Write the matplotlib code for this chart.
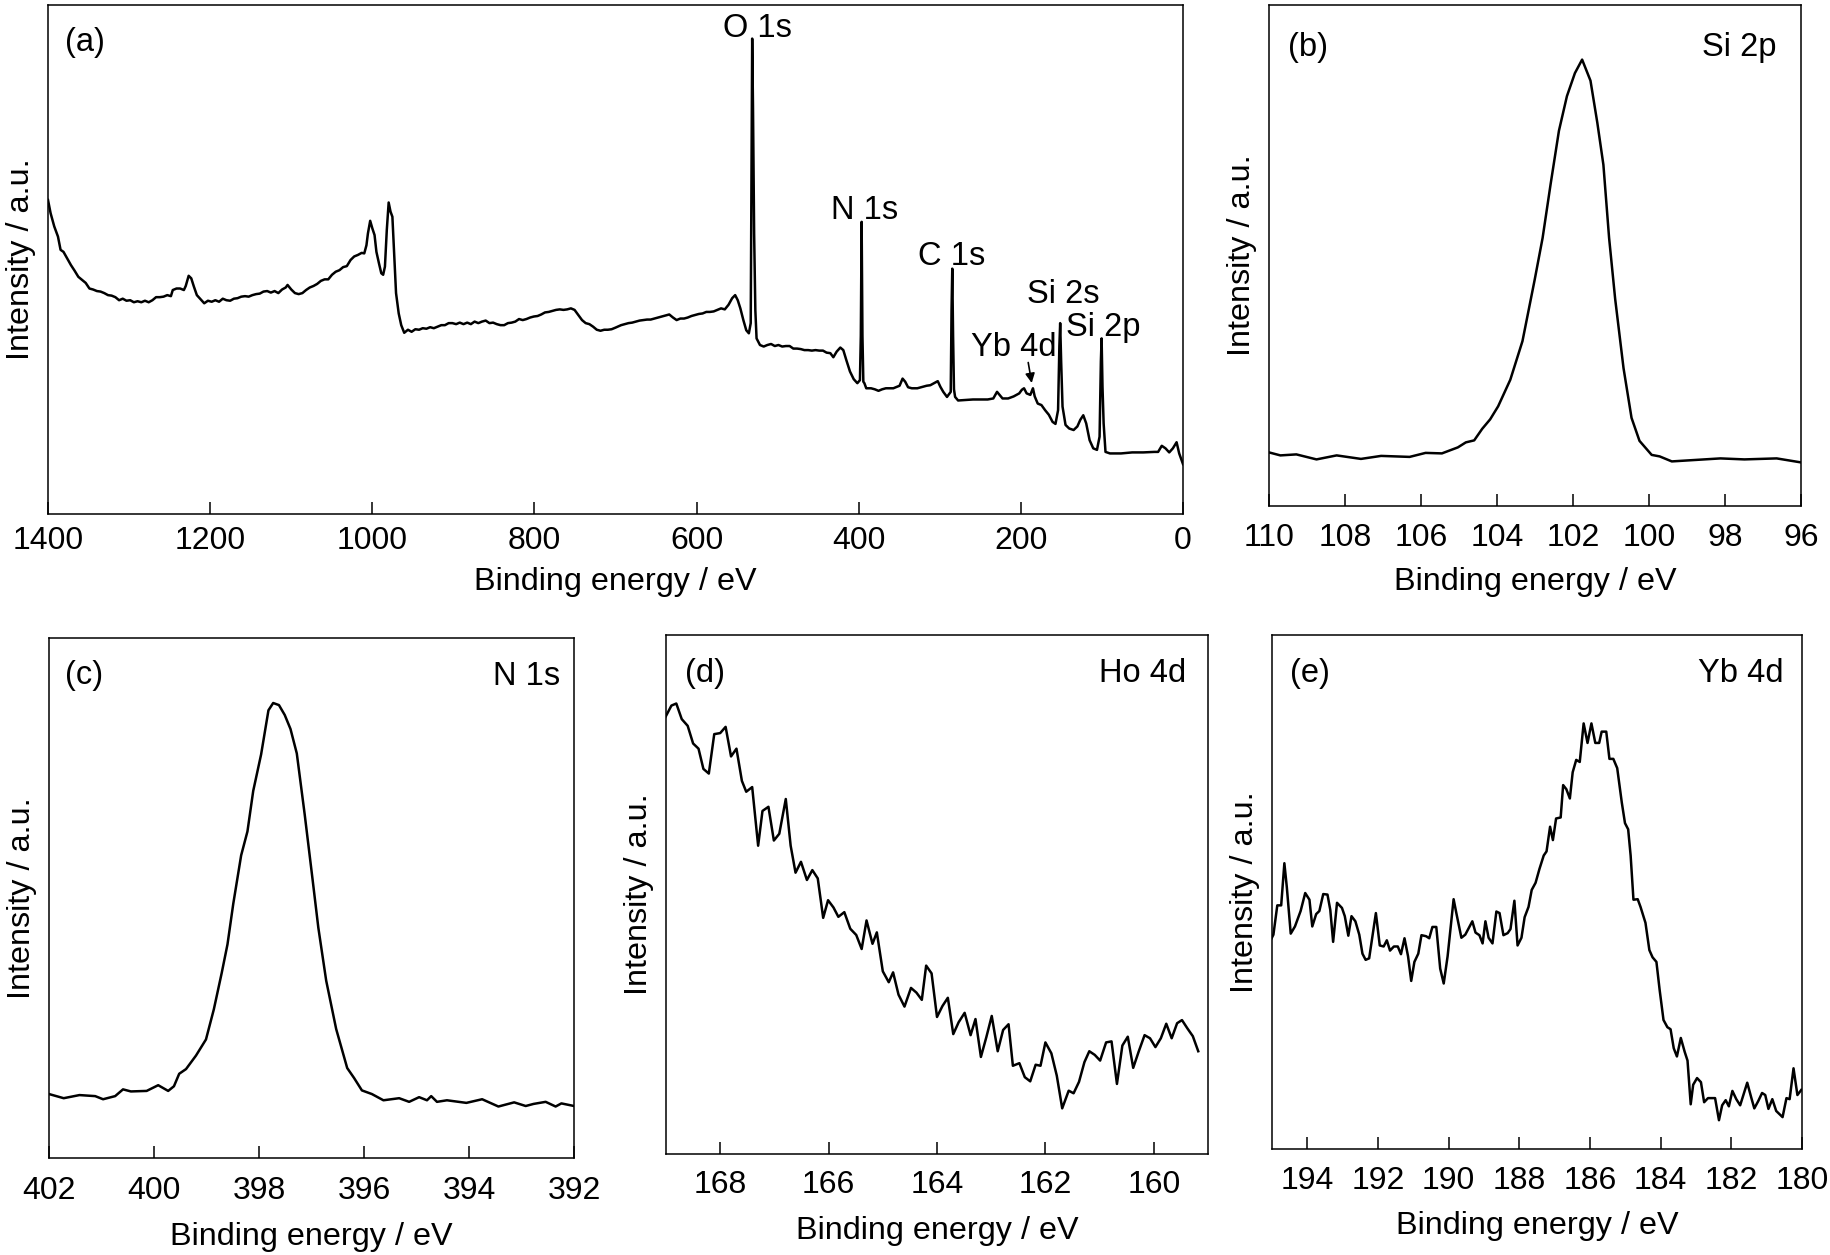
import matplotlib
matplotlib.use("Agg")
import matplotlib.pyplot as plt

plt.rcParams['font.family'] = ['Liberation Sans', 'DejaVu Sans']

# ---------------- data ----------------
# (a) survey spectrum
survey_be = [1400, 1396.8, 1392.3, 1387.7, 1384.5, 1380.9, 1376.3, 1371.7, 1367.2, 1362.6, 1358.0,
             1353.5, 1348.9, 1344.3, 1339.7, 1335.2, 1330.6, 1326.0, 1321.5, 1316.9, 1312.3, 1307.8,
             1303.2, 1298.6, 1294.1, 1289.5, 1284.9, 1280.4, 1275.8, 1271.2, 1266.7, 1262.1, 1257.5,
             1252.9, 1248.4, 1246.1, 1241.5, 1237.0, 1232.4, 1230.1, 1226.5, 1223.3, 1220.1, 1216.4,
             1211.8, 1207.3, 1202.7, 1198.1, 1193.6, 1189.0, 1184.4, 1179.9, 1175.3, 1170.7, 1166.2,
             1161.6, 1157.0, 1152.5, 1147.9, 1143.3, 1138.8, 1134.2, 1129.6, 1125.1, 1120.5, 1115.9,
             1111.3, 1106.8, 1104.5, 1099.9, 1095.4, 1090.8, 1086.2, 1081.7, 1077.1, 1072.5, 1068.0,
             1063.4, 1058.8, 1054.3, 1049.7, 1045.1, 1040.5, 1036.0, 1031.4, 1026.8, 1022.3, 1017.7,
             1013.1, 1009.9, 1007.2, 1005.4, 1002.6, 999.9, 997.2, 994.9, 991.7, 988.9, 986.6, 984.4,
             982.1, 979.8, 977.5, 975.2, 973.4, 970.7, 967.4, 964.3, 960.6, 956.0, 951.5, 946.9,
             942.3, 937.8, 933.2, 928.6, 924.1, 919.5, 914.9, 910.4, 905.8, 901.2, 896.6, 892.1,
             887.5, 882.9, 878.4, 873.8, 869.2, 864.7, 860.1, 855.5, 851.0, 846.4, 841.8, 837.3,
             832.7, 828.1, 823.6, 819.0, 814.4, 809.9, 805.3, 800.7, 796.1, 791.6, 787.0, 782.4,
             777.9, 773.3, 768.7, 764.2, 759.6, 755.0, 750.5, 745.9, 741.3, 736.8, 732.2, 727.6,
             723.1, 718.5, 713.9, 709.4, 704.8, 700.2, 693.1, 688.5, 684.0, 679.4, 674.8, 670.3,
             665.7, 661.1, 656.6, 652.0, 647.4, 642.9, 638.3, 633.7, 629.1, 624.6, 620.0, 615.4,
             610.9, 606.3, 601.7, 597.2, 592.6, 588.0, 583.5, 578.9, 574.3, 569.8, 565.2, 560.6,
             556.1, 552.4, 549.2, 546.0, 542.3, 538.7, 535.5, 533.2, 532.2, 531.4, 530.4, 529.0,
             527.5, 526.0, 525.0, 521.8, 517.2, 512.7, 508.1, 503.5, 499.0, 494.4, 489.8, 485.2,
             480.7, 476.1, 471.5, 467.0, 462.4, 457.8, 453.3, 448.7, 444.1, 439.6, 435.0, 431.3,
             427.2, 422.7, 419.0, 415.4, 410.8, 406.2, 401.7, 398.5, 397.4, 396.4, 395.4, 394.3,
             393.0, 390.7, 384.8, 380.2, 375.6, 371.1, 366.5, 361.9, 357.3, 352.8, 349.6, 345.9,
             342.7, 339.1, 334.5, 327.7, 320.8, 316.2, 311.7, 307.1, 302.5, 299.3, 295.7, 291.1,
             286.5, 285.5, 284.6, 283.6, 282.5, 281.1, 277.4, 268.3, 259.1, 250.0, 240.9, 234.0,
             229.4, 226.2, 222.6, 215.7, 208.9, 202.0, 198.8, 196.1, 192.9, 188.3, 185.1, 182.9,
             179.2, 174.6, 170.1, 165.5, 160.9, 157.3, 154.1, 152.5, 151.5, 150.3, 148.6, 144.9,
             140.4, 134.9, 130.3, 126.7, 123.0, 119.4, 115.2, 110.7, 106.1, 102.9, 101.3, 100.4,
             99.3, 97.9, 95.6, 90.1, 76.4, 62.7, 49.0, 35.3, 30.7, 26.2, 21.6, 17.0, 12.5, 7.9,
             4.7, 1.1, 0]
survey_int = [61.7, 59.1, 56.5, 54.5, 51.9, 51.5, 50.2, 48.9, 47.8, 46.6, 46.0,
              45.4, 44.3, 44.1, 43.8, 43.7, 43.4, 43.0, 42.9, 42.6, 42.0, 42.3,
              41.9, 42.0, 41.6, 41.8, 41.6, 41.9, 41.6, 42.0, 42.6, 42.6, 42.7,
              43.0, 42.8, 44.0, 44.3, 44.3, 44.0, 44.8, 46.8, 46.3, 44.7, 43.0,
              42.2, 41.4, 41.9, 41.7, 42.0, 41.7, 42.3, 42.0, 41.9, 42.3, 42.4,
              42.7, 42.8, 42.7, 43.0, 43.2, 43.3, 43.7, 43.8, 43.5, 43.8, 43.4,
              44.1, 44.5, 45.0, 44.1, 43.4, 43.2, 43.4, 44.0, 44.5, 44.8, 45.2,
              45.8, 46.1, 46.1, 47.0, 47.6, 47.9, 48.5, 48.7, 49.9, 50.6, 50.9,
              51.3, 51.2, 52.8, 55.1, 57.6, 56.1, 54.8, 51.5, 49.2, 47.3, 47.0, 48.6,
              55.8, 61.2, 59.4, 58.4, 52.5, 43.4, 39.4, 37.1, 35.6, 36.2, 35.8, 36.3,
              36.2, 36.5, 36.4, 36.7, 36.5, 36.8, 37.1, 37.1, 37.5, 37.5, 37.3, 37.6,
              37.3, 37.6, 37.3, 37.8, 37.5, 37.8, 38.0, 37.5, 37.6, 37.3, 37.1, 37.1,
              37.5, 37.6, 37.8, 38.3, 38.1, 38.3, 38.6, 38.8, 38.9, 39.2, 39.6, 39.7,
              39.9, 40.1, 40.2, 40.1, 40.2, 40.4, 40.1, 39.1, 38.1, 37.5, 37.3, 36.8,
              36.2, 36.0, 36.2, 36.2, 36.3, 36.6, 37.1, 37.3, 37.5, 37.6, 37.8, 38.0,
              38.1, 38.2, 38.2, 38.4, 38.6, 38.8, 39.0, 39.2, 38.6, 38.1, 38.4, 38.4,
              38.6, 38.9, 39.1, 39.3, 39.4, 39.7, 39.7, 39.8, 40.1, 40.4, 40.2, 41.1,
              42.4, 43.0, 42.0, 40.4, 38.1, 36.1, 35.5, 37.5, 70.0, 93.4, 80.0, 55.0,
              40.0, 34.5, 34.2, 33.2, 32.9, 33.2, 33.4, 33.0, 33.2, 32.9, 33.0, 33.0,
              32.5, 32.5, 32.4, 32.2, 32.2, 32.1, 32.2, 32.1, 32.1, 31.7, 31.6, 30.8,
              31.9, 32.7, 32.2, 30.3, 28.0, 26.5, 25.7, 26.3, 35.0, 57.4, 35.0, 26.0,
              25.7, 24.7, 24.7, 24.5, 24.2, 24.5, 24.7, 24.7, 24.7, 25.0, 25.2, 26.6,
              26.0, 24.9, 24.7, 24.7, 25.0, 25.2, 25.3, 25.7, 26.1, 25.0, 24.0, 23.0,
              24.0, 40.0, 48.2, 35.0, 24.5, 23.0, 22.3, 22.4, 22.5, 22.5, 22.5, 22.7,
              24.0, 23.4, 22.7, 22.7, 23.1, 23.7, 24.4, 24.7, 23.7, 23.4, 24.7, 23.1,
              21.7, 21.4, 20.4, 19.5, 18.1, 17.7, 20.4, 33.0, 37.5, 30.0, 21.1, 17.5,
              16.8, 16.5, 17.2, 18.5, 19.4, 17.8, 14.5, 12.9, 12.6, 15.2, 30.0, 34.5,
              25.0, 17.8, 12.2, 11.9, 11.9, 12.1, 12.1, 12.2, 12.2, 13.4, 12.9, 12.1, 12.9, 14.1,
              11.9, 10.3, 9.8]
survey_labels = ["O 1s", "N 1s", "C 1s", "Si 2s", "Si 2p", "Yb 4d"]
survey_label_be = [525, 393, 285, 148, 98, 209]
survey_label_int = [93.7, 58.0, 48.9, 41.5, 35.0, 31.0]

# (b) Si 2p
si_be = [110.0, 109.70, 109.28, 108.75, 108.22, 107.58, 107.05, 106.30, 105.88, 105.45, 105.03,
         104.82, 104.60, 104.39, 104.18, 103.97, 103.65, 103.33, 103.01, 102.80, 102.59, 102.37,
         102.16, 101.95, 101.76, 101.54, 101.36, 101.20, 101.05, 100.89, 100.67, 100.46, 100.25,
         99.93, 99.72, 99.40, 98.76, 98.12, 97.49, 96.64, 96.00]
si_int = [10.7, 10.1, 10.3, 9.3, 10.1, 9.4, 10.0, 9.8, 10.6, 10.5, 11.7, 12.7, 13.1, 15.4, 17.3,
          19.9, 25.2, 32.9, 45.1, 53.5, 64.2, 74.9, 81.8, 86.4, 89.1, 84.9, 76.5, 68.1, 53.5, 41.3,
          27.5, 17.6, 13.0, 10.2, 9.9, 8.9, 9.2, 9.5, 9.3, 9.5, 8.7]

# (c) N 1s
n_be = [402.00, 401.72, 401.42, 401.12, 400.97, 400.74, 400.59, 400.44, 400.14, 399.92, 399.73,
        399.62, 399.52, 399.39, 399.20, 399.01, 398.86, 398.71, 398.60, 398.49, 398.34, 398.22,
        398.11, 397.96, 397.82, 397.73, 397.62, 397.51, 397.40, 397.28, 397.13, 396.98, 396.87,
        396.72, 396.53, 396.32, 396.19, 396.04, 395.85, 395.63, 395.33, 395.14, 394.95, 394.80,
        394.72, 394.61, 394.42, 394.05, 393.75, 393.44, 393.14, 392.92, 392.77, 392.54, 392.35,
        392.24, 392.00]
n_int = [12.3, 11.5, 12.1, 11.9, 11.3, 11.9, 13.2, 12.8, 12.9, 14.0, 12.9, 13.8, 16.2, 17.1, 19.7,
         22.8, 28.6, 35.6, 41.1, 48.9, 58.2, 62.8, 70.6, 77.6, 86.1, 87.5, 87.1, 85.2, 82.5, 77.8,
         66.1, 53.6, 44.3, 34.1, 24.8, 17.3, 15.4, 13.0, 12.3, 11.1, 11.5, 10.8, 11.7, 11.1, 11.9,
         10.8, 11.1, 10.6, 11.3, 9.9, 10.7, 10.0, 10.4, 10.8, 9.9, 10.5, 10.0]

# (d) Ho 4d
ho_be = [169.01, 168.90, 168.81, 168.71, 168.60, 168.50, 168.40, 168.31, 168.21, 168.11, 168.00,
         167.90, 167.80, 167.70, 167.60, 167.52, 167.41, 167.30, 167.22, 167.11, 167.01, 166.91,
         166.79, 166.70, 166.61, 166.51, 166.40, 166.30, 166.20, 166.10, 166.01, 165.91, 165.82,
         165.71, 165.60, 165.49, 165.39, 165.30, 165.19, 165.11, 165.00, 164.89, 164.81, 164.71,
         164.60, 164.48, 164.38, 164.28, 164.20, 164.10, 164.00, 163.90, 163.80, 163.70, 163.60,
         163.49, 163.38, 163.29, 163.19, 163.09, 162.99, 162.88, 162.78, 162.68, 162.60, 162.48,
         162.38, 162.28, 162.18, 162.09, 162.00, 161.89, 161.79, 161.69, 161.57, 161.48, 161.38,
         161.28, 161.19, 161.09, 160.99, 160.88, 160.78, 160.68, 160.58, 160.48, 160.38, 160.28,
         160.17, 160.07, 159.97, 159.87, 159.77, 159.67, 159.57, 159.48, 159.38, 159.28, 159.18]
ho_int = [84.2, 86.4, 86.8, 83.8, 82.5, 79.1, 78.1, 74.2, 73.3, 80.9, 81.1, 82.3, 76.6, 78.1, 71.9,
          69.8, 70.7, 59.4, 66.1, 66.9, 60.4, 61.7, 68.4, 59.4, 54.2, 56.3, 52.8, 54.7, 53.1, 45.5,
          48.9, 47.5, 45.7, 46.6, 43.4, 42.2, 39.5, 45.0, 40.5, 42.7, 35.2, 33.1, 35.0, 30.7, 28.4,
          32.0, 31.1, 29.7, 36.3, 34.8, 26.4, 28.5, 30.1, 23.1, 25.4, 27.2, 22.9, 26.0, 18.7, 22.5,
          26.6, 19.8, 23.9, 25.0, 17.0, 17.5, 14.8, 14.0, 17.2, 17.0, 21.5, 19.4, 15.1, 8.8, 12.2,
          11.7, 13.9, 17.7, 19.8, 19.1, 18.0, 21.5, 21.7, 13.5, 20.9, 22.6, 16.6, 19.7, 22.9, 22.3,
          20.6, 22.3, 25.1, 22.3, 25.2, 25.8, 24.2, 22.7, 19.8]

# (e) Yb 4d
yb_be = [195.04, 194.96, 194.85, 194.74, 194.65, 194.58, 194.47, 194.35, 194.19, 194.06, 193.94,
         193.86, 193.75, 193.66, 193.55, 193.43, 193.35, 193.27, 193.16, 193.02, 192.94, 192.84,
         192.75, 192.64, 192.53, 192.44, 192.35, 192.25, 192.06, 191.95, 191.84, 191.75, 191.66,
         191.55, 191.44, 191.35, 191.25, 191.15, 191.06, 190.97, 190.86, 190.77, 190.64, 190.55,
         190.46, 190.35, 190.24, 190.14, 190.03, 189.86, 189.78, 189.64, 189.53, 189.33, 189.24,
         189.13, 189.04, 188.96, 188.87, 188.76, 188.65, 188.56, 188.45, 188.33, 188.25, 188.14,
         188.05, 187.94, 187.85, 187.74, 187.65, 187.54, 187.43, 187.31, 187.23, 187.13, 187.05,
         186.96, 186.83, 186.76, 186.67, 186.57, 186.49, 186.39, 186.29, 186.18, 186.07, 185.96,
         185.85, 185.74, 185.67, 185.54, 185.45, 185.34, 185.23, 185.10, 185.01, 184.92, 184.85,
         184.77, 184.65, 184.57, 184.43, 184.32, 184.23, 184.12, 184.03, 183.92, 183.81, 183.72,
         183.63, 183.54, 183.43, 183.32, 183.24, 183.15, 183.08, 182.97, 182.86, 182.77, 182.66,
         182.46, 182.35, 182.26, 182.16, 182.07, 181.97, 181.86, 181.75, 181.55, 181.44, 181.35,
         181.24, 181.13, 181.04, 180.95, 180.84, 180.73, 180.55, 180.44, 180.35, 180.24, 180.13,
         180.02]
yb_int = [40.6, 41.7, 47.4, 47.4, 55.6, 50.9, 41.9, 43.3, 46.3, 49.8, 48.5, 43.3, 45.7, 46.3, 49.6,
          49.5, 46.5, 40.3, 47.9, 46.9, 45.3, 41.5, 45.3, 44.3, 41.7, 38.0, 36.8, 37.1, 45.9, 39.6,
          39.4, 40.6, 38.6, 39.4, 39.4, 37.9, 41.0, 37.5, 32.7, 36.4, 38.0, 41.6, 41.4, 41.0, 43.2,
          43.2, 35.1, 32.2, 37.5, 48.6, 45.8, 41.1, 41.7, 44.3, 42.1, 41.6, 40.0, 44.3, 41.1, 40.0,
          46.2, 45.9, 41.6, 42.0, 42.8, 48.3, 39.6, 41.1, 45.1, 47.1, 50.4, 51.8, 54.5, 57.1, 57.9,
          62.7, 60.1, 64.3, 64.5, 70.8, 70.0, 68.2, 73.3, 75.7, 75.3, 82.8, 79.0, 82.8, 79.0, 79.0,
          81.2, 81.2, 75.9, 75.9, 74.1, 67.4, 63.4, 62.2, 57.1, 48.5, 48.6, 47.1, 44.0, 38.7, 37.3,
          36.4, 31.0, 25.1, 23.7, 23.3, 19.6, 18.0, 21.6, 18.9, 17.2, 8.7, 12.5, 13.8, 13.0, 9.1,
          9.9, 9.9, 5.6, 8.5, 9.5, 8.3, 11.3, 9.7, 8.5, 12.9, 10.1, 7.9, 9.3, 10.9, 10.5, 7.8, 9.7,
          7.4, 6.2, 9.9, 9.7, 15.7, 10.5, 11.5]

# ---------------- styling ----------------
TICK_FS = 23
LABEL_FS = 23.3
TEXT_FS = 23.5
LW = 1.8

W, H = 1831, 1255
fig = plt.figure(figsize=(W / 100, H / 100), dpi=100)


def make_ax(l, t, r, b):
    return fig.add_axes([l / W, 1 - b / H, (r - l) / W, (b - t) / H])


def style(ax, xlim, xticks, letter, name, letter_off, name_off, pad, labelpad):
    ax.set_xlim(*xlim)
    ax.set_ylim(0, 100)
    ax.set_xticks(xticks)
    ax.set_xticklabels([str(v) for v in xticks])
    ax.set_yticks([])
    ax.tick_params(axis='x', direction='in', length=8.5, width=1.1, labelsize=TICK_FS, pad=pad)
    for s in ax.spines.values():
        s.set_linewidth(1.1)
    ax.set_xlabel("Binding energy / eV", fontsize=LABEL_FS, labelpad=labelpad)
    ax.set_ylabel("Intensity / a.u.", fontsize=LABEL_FS, labelpad=8.5)
    bb = ax.get_position()
    wpx = bb.width * W
    hpx = bb.height * H
    ax.text(letter_off[0] / wpx, 1 - letter_off[1] / hpx, letter, transform=ax.transAxes,
            fontsize=TEXT_FS, ha='left', va='top')
    if name:
        ax.text(1 - name_off[0] / wpx, 1 - name_off[1] / hpx, name, transform=ax.transAxes,
                fontsize=TEXT_FS, ha='right', va='top')


# (a)
ax_a = make_ax(48, 5, 1183, 514)
ax_a.plot(survey_be, survey_int, color='black', lw=LW, solid_joinstyle='round')
style(ax_a, (1400, 0), [1400, 1200, 1000, 800, 600, 400, 200, 0], "(a)", None,
      (17, 22), None, 9, 7.3)
for lab, xb, yi in zip(survey_labels, survey_label_be, survey_label_int):
    ax_a.text(xb, yi, lab, fontsize=TEXT_FS, ha='center', va='baseline')
ax_a.annotate("", xy=(186.0, 25.2), xytext=(191.5, 30.3),
              arrowprops=dict(arrowstyle='-|>', color='black', lw=1.2, mutation_scale=14))

# (b)
ax_b = make_ax(1269, 5, 1801, 506)
ax_b.plot(si_be, si_int, color='black', lw=LW, solid_joinstyle='round')
style(ax_b, (110, 96), [110, 108, 106, 104, 102, 100, 98, 96], "(b)", "Si 2p",
      (19, 27), (24, 27), 12.6, 9.5)

# (c)
ax_c = make_ax(49, 638, 574, 1158)
ax_c.plot(n_be, n_int, color='black', lw=LW, solid_joinstyle='round')
style(ax_c, (402, 392), [402, 400, 398, 396, 394, 392], "(c)", "N 1s",
      (16, 22), (14, 23), 13.3, 11)

# (d)
ax_d = make_ax(666, 635, 1208, 1154)
ax_d.plot(ho_be, ho_int, color='black', lw=LW, solid_joinstyle='round')
style(ax_d, (169, 159), [168, 166, 164, 162, 160], "(d)", "Ho 4d",
      (19, 23), (22, 23), 11.2, 11.5)

# (e)
ax_e = make_ax(1272, 635, 1802, 1149)
ax_e.plot(yb_be, yb_int, color='black', lw=LW, solid_joinstyle='round')
style(ax_e, (195, 180), [194, 192, 190, 188, 186, 184, 182, 180], "(e)", "Yb 4d",
      (18, 23), (18, 23), 11.9, 11)

fig.savefig("out.png", dpi=100)
